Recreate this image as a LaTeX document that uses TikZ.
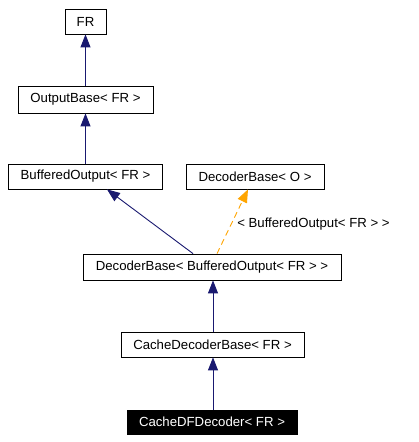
\documentclass[tikz,border=0pt]{standalone}
\usepackage{fontspec}
\setmainfont{Liberation Sans}
\usetikzlibrary{arrows.meta}
\definecolor{edgeblue}{RGB}{25,25,112}
\definecolor{edgeorange}{RGB}{255,165,0}
\begin{document}
\begin{tikzpicture}[x=1pt,y=-1pt,
  cls/.style={draw=black,line width=0.8pt,fill=white,inner sep=0pt,minimum height=25pt,font=\fontsize{13.2}{15}\selectfont},
  cur/.style={cls,fill=black,text=white},
  inh/.style={draw=edgeblue,line width=0.9pt,-{Triangle[length=13pt,width=10pt]}},
  tmpl/.style={draw=edgeorange,line width=0.9pt,dashed,dash pattern=on 6pt off 4pt,-{Triangle[length=13pt,width=10pt]}}]
\useasboundingbox[fill=white] (0,0) rectangle (419,442);
\node[cls,minimum width=41pt] (fr) at (85.5,21.5) {FR};
\node[cls,minimum width=135pt,minimum height=27pt] (ob) at (85.5,99.5) {OutputBase< FR >};
\node[cls,minimum width=154pt] (bo) at (85.5,176.5) {BufferedOutput< FR >};
\node[cls,minimum width=138pt] (dbo) at (255,176.5) {DecoderBase< O >};
\node[cls,minimum width=258pt,minimum height=26pt] (dbb) at (212,267) {DecoderBase< BufferedOutput< FR > >};
\node[cls,minimum width=183pt] (cdb) at (212.5,344.5) {CacheDecoderBase< FR >};
\node[cur,minimum width=170pt,minimum height=24pt] (cdf) at (212,422) {CacheDFDecoder< FR >};
\draw[inh] (ob.north) -- (fr.south);
\draw[inh] (bo.north) -- (ob.south);
\draw[inh] ([xshift=-19pt]dbb.north) -- ([xshift=21.5pt]bo.south);
\draw[tmpl] ([xshift=5pt]dbb.north) -- node[pos=0.5,anchor=west,xshift=1pt,yshift=-3pt,font=\fontsize{13.2}{15}\selectfont,text=black] (lbl) {< BufferedOutput< FR > >} ([xshift=-7pt]dbo.south);
\draw[inh] ([xshift=0.5pt]cdb.north) -- ([xshift=1pt]dbb.south);
\draw[inh] ([xshift=1pt]cdf.north) -- ([xshift=0.5pt]cdb.south);
\end{tikzpicture}
\end{document}
